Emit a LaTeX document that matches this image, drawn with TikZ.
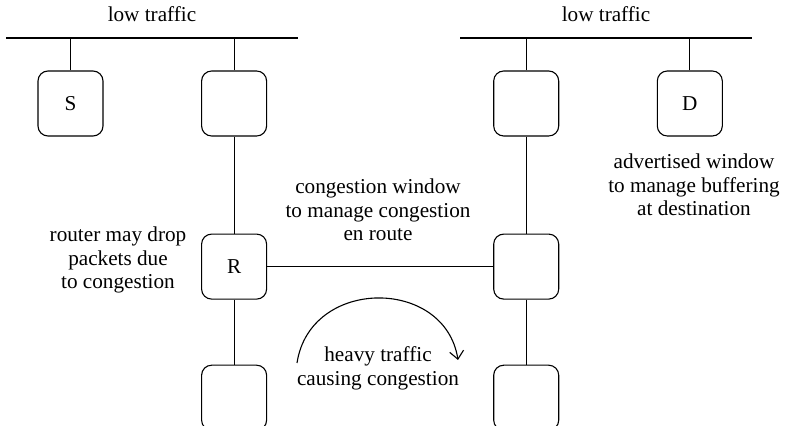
\documentclass[tikz,border=0pt]{standalone}
\usepackage{fontspec}
\setmainfont{Liberation Serif}
\usetikzlibrary{arrows.meta, positioning, calc}

\begin{document}
\begin{tikzpicture}[
    x=0.5pt, y=-0.5pt,
    node distance=48.75pt,
    hostbox/.style={rectangle, draw, rounded corners=5pt, minimum width=32.5pt, minimum height=32.5pt, inner sep=0pt, line width=0.55pt, font=\fontsize{10.6}{11.8}\selectfont},
    note/.style={align=center, inner sep=0pt, font=\fontsize{10.6}{11.8}\selectfont},
    link/.style={draw, line width=0.55pt},
    flow/.style={draw, line width=0.55pt, -{Straight Barb[length=4pt, width=7pt]}}
]
    \useasboundingbox (0,0) rectangle (785,426);

    % the two low traffic networks
    \coordinate (lanA-w) at (6,38);
    \coordinate (lanA-e) at (298,38);
    \coordinate (lanB-w) at (460,38);
    \coordinate (lanB-e) at (752,38);
    \draw [link] (lanA-w) -- (lanA-e);
    \draw [link] (lanB-w) -- (lanB-e);
    \node [note, anchor=base] (trafA) at ($(lanA-w)!0.5!(lanA-e)+(0,-16)$) {low traffic};
    \node [note, anchor=base] (trafB) at ($(lanB-w)!0.5!(lanB-e)+(0,-16)$) {low traffic};

    % hosts and gateways
    \node [hostbox] (src) at (70.5,103.5) {S};
    \node [hostbox, right=of src] (gwA) {};
    \node [hostbox, right=113pt of gwA] (gwB) {};
    \node [hostbox, right=of gwB] (dst) {D};

    % routers on the congested path
    \node [hostbox, below=48.5pt of gwA] (rtr) {R};
    \node [hostbox, below=48.5pt of gwB] (rtrB) {};
    \node [hostbox, below=32.5pt of rtr] (lowA) {};
    \node [hostbox, below=32.5pt of rtrB] (lowB) {};

    \draw [link] (src.north) -- (src.north |- lanA-w);
    \draw [link] (gwA.north) -- (gwA.north |- lanA-w);
    \draw [link] (gwB.north) -- (gwB.north |- lanB-w);
    \draw [link] (dst.north) -- (dst.north |- lanB-w);

    \draw [link] (gwA) -- (rtr) -- (lowA);
    \draw [link] (gwB) -- (rtrB) -- (lowB);
    \draw [link] (rtr) -- (rtrB);

    % notes
    \node [note] (dropnote) at (118,260) {router may drop\\packets due\\to congestion};
    \node [note] (cwndnote) at (378,210) {congestion window\\to manage congestion\\en route};
    \node [note] (awndnote) at (694,185) {advertised window\\to manage buffering\\at destination};
    \node [note] (heavynote) at (378,368.5) {heavy traffic\\causing congestion};

    \coordinate (jam-s) at (297,363);
    \coordinate (jam-e) at (458,360);
    \draw [flow] (jam-s) .. controls (310,277) and (445,277) .. (jam-e);

\end{tikzpicture}
\end{document}
